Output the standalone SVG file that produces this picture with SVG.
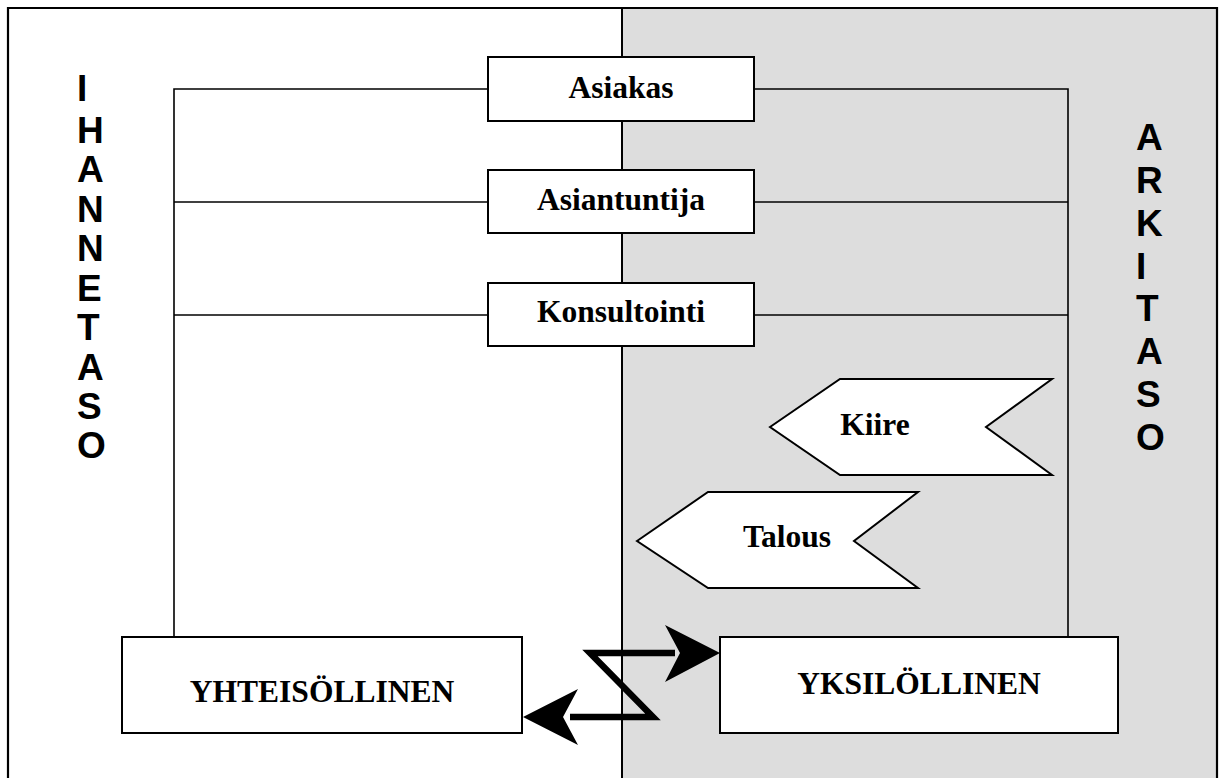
<svg xmlns="http://www.w3.org/2000/svg" width="1226" height="778" viewBox="0 0 1226 778">
<style>
.box{fill:#fff;stroke:#000;stroke-width:2}
.ln{fill:none;stroke:#000;stroke-width:1.6}
.t{font-family:"Liberation Serif","Times New Roman",serif;font-weight:bold;font-size:31.5px;text-anchor:middle;fill:#000}
.v{font-family:"Liberation Sans",Arial,sans-serif;font-weight:bold;font-size:37px;fill:#000}
</style>
<rect x="0" y="0" width="1226" height="778" fill="#fff"/>
<rect x="622" y="8" width="595" height="772" fill="#dddddd"/>
<path d="M8 780 V8 H1217 V780" fill="none" stroke="#000" stroke-width="2.2"/>
<line x1="622" y1="8" x2="622" y2="778" stroke="#000" stroke-width="2"/>
<g id="connectors">
<polyline class="ln" points="488,89 174,89 174,637"/>
<line class="ln" x1="174" y1="202" x2="488" y2="202"/>
<line class="ln" x1="174" y1="315" x2="488" y2="315"/>
<polyline class="ln" points="754,89 1068,89 1068,637"/>
<line class="ln" x1="754" y1="202" x2="1068" y2="202"/>
<line class="ln" x1="754" y1="315" x2="1068" y2="315"/>
<polyline points="675,653 590,653 653,717 570,717" fill="none" stroke="#000" stroke-width="6.5" stroke-linejoin="miter"/>
<polygon points="720,653 665,625 680,653 665,682" fill="#000"/>
<polygon points="523,717 578,689 563,717 578,745" fill="#000"/>
</g>
<g id="asiakas"><rect class="box" x="488" y="57" width="266" height="64"/><text class="t" x="621" y="98">Asiakas</text></g>
<g id="asiantuntija"><rect class="box" x="488" y="170" width="266" height="63"/><text class="t" x="621" y="210">Asiantuntija</text></g>
<g id="konsultointi"><rect class="box" x="488" y="283" width="266" height="63"/><text class="t" x="621" y="322">Konsultointi</text></g>
<g id="kiire"><polygon class="box" points="770,427 840,379 1052,379 986,427 1052,475 840,475"/><text class="t" x="875" y="435">Kiire</text></g>
<g id="talous"><polygon class="box" points="637,541 708,492 918,492 854,541 918,588 708,588"/><text class="t" x="787" y="547">Talous</text></g>
<g id="yhteisollinen"><rect class="box" x="122" y="637" width="400" height="96"/><text class="t" x="322" y="702">YHTEISÖLLINEN</text></g>
<g id="yksilollinen"><rect class="box" x="720" y="637" width="398" height="96"/><text class="t" x="919" y="694">YKSILÖLLINEN</text></g>
<g id="ihannetaso">
<text class="v" x="77" y="101">I</text>
<text class="v" x="77" y="143">H</text>
<text class="v" x="77" y="182">A</text>
<text class="v" x="77" y="222">N</text>
<text class="v" x="77" y="261">N</text>
<text class="v" x="77" y="301">E</text>
<text class="v" x="77" y="340">T</text>
<text class="v" x="77" y="380">A</text>
<text class="v" x="77" y="419">S</text>
<text class="v" x="77" y="458">O</text>
</g>
<g id="arkitaso">
<text class="v" x="1136" y="150">A</text>
<text class="v" x="1136" y="193">R</text>
<text class="v" x="1136" y="236">K</text>
<text class="v" x="1136" y="279">I</text>
<text class="v" x="1136" y="321">T</text>
<text class="v" x="1136" y="364">A</text>
<text class="v" x="1136" y="407">S</text>
<text class="v" x="1136" y="450">O</text>
</g>
</svg>
